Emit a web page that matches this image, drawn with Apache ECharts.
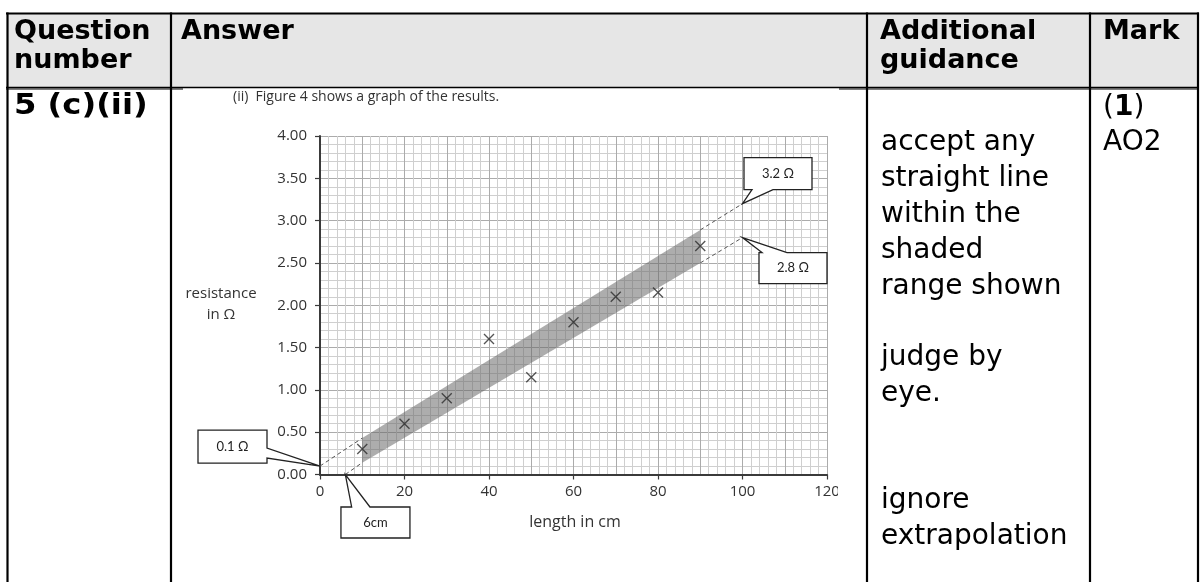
<!DOCTYPE html>
<html><head><meta charset="utf-8">
<script src="https://cdn.jsdelivr.net/npm/echarts@6/dist/echarts.min.js"></script>
<style>html,body{margin:0;padding:0;background:#fff}#c{width:1200px;height:582px}</style>
</head><body><div id="c"></div>
<script>
// ---- data ----
const lengthsCm = [10, 20, 30, 40, 50, 60, 70, 80, 90];
const resistanceOhm = [0.30, 0.60, 0.90, 1.60, 1.15, 1.80, 2.10, 2.15, 2.70];
const bandX = [10, 90, 90, 10];
const bandY = [0.43, 2.89, 2.50, 0.14];
const upperLeftExt = [[0, 0.1], [10, 0.43]];
const lowerLeftExt = [[6, 0], [10, 0.14]];
const upperRightExt = [[90, 2.89], [100, 3.2]];
const lowerRightExt = [[90, 2.50], [100, 2.8]];
const calloutLabels = ['0.1 Ω', '6cm', '3.2 Ω', '2.8 Ω'];
const calloutX = [0, 6, 100, 100];
const calloutY = [0.1, 0, 3.2, 2.8];
const xTickLabels = ['0', '20', '40', '60', '80', '100', '120'];
const yTickLabels = ['0.00', '0.50', '1.00', '1.50', '2.00', '2.50', '3.00', '3.50', '4.00'];
const headers = ['Question\nnumber', 'Answer', 'Additional\nguidance', 'Mark'];
const questionId = '5 (c)(ii)';
const guidanceLines = ['accept any', 'straight line', 'within the', 'shaded', 'range shown', '', 'judge by', 'eye.', '', '', 'ignore', 'extrapolation'];
const markLines = ['1', 'AO2'];
const figureCaption = '(ii)  Figure 4 shows a graph of the results.';
const yAxisTitle = 'resistance\nin Ω';
const xAxisTitle = 'length in cm';

// ---- layout ----
const calloutLayout = [
  { dx: -122, dy: -36, w: 69, h: 33, side: 'right', a: 18, b: 28 },
  { dx: -4.4, dy: 32.5, w: 69, h: 31, side: 'top', a: 10.7, b: 29 },
  { dx: 1.5, dy: -46, w: 68, h: 32, side: 'bottom', a: 8, b: 29 },
  { dx: 16.5, dy: 15, w: 68, h: 31, side: 'top', a: 3, b: 28 }
];
const CF = 'Open Sans, sans-serif';
const TF = 'DejaVu Sans, Verdana, sans-serif';
const gridColorMajor = '#ababab';
const gridColorMinor = '#cfcfcf';
const axisColor = '#3a3a3a';

const chart = echarts.init(document.getElementById('c'), null, { renderer: 'canvas' });

function vline(x, y1, y2, w) {
  return { type: 'line', z: 50, shape: { x1: x, y1: y1, x2: x, y2: y2 }, style: { stroke: '#000', lineWidth: w } };
}
function hline(y, x1, x2, w) {
  return { type: 'line', z: 50, shape: { x1: x1, y1: y, x2: x2, y2: y }, style: { stroke: '#000', lineWidth: w } };
}
function txt(text, x, y, size, weight, opts) {
  return { type: 'text', z: 60, style: Object.assign({
    text: text, x: x, y: y, fill: '#000', fontFamily: TF, fontSize: size, fontWeight: weight,
    align: 'left', verticalAlign: 'middle'
  }, opts || {}) };
}

const graphic = [
  { type: 'rect', z: 1, shape: { x: 7, y: 13, width: 1191, height: 74 }, style: { fill: '#e6e6e6' } },
  hline(13.5, 6, 1199, 2),
  hline(87.5, 6, 1199, 1.5),
  hline(89, 6, 183, 1.2),
  hline(89, 839, 1199, 1.2),
  vline(7.5, 12.5, 582, 2.2),
  vline(171, 12.5, 582, 2.2),
  vline(867, 12.5, 582, 2.2),
  vline(1090, 12.5, 582, 2.2),
  vline(1198, 12.5, 582, 2.2),
  txt(headers[0], 14, 17.8, 27, 'bold', { verticalAlign: 'top', lineHeight: 28.5 }),
  txt(headers[1], 181, 32, 27, 'bold'),
  txt(headers[2], 880, 17.8, 27, 'bold', { verticalAlign: 'top', lineHeight: 28.5 }),
  txt(headers[3], 1103, 32, 27, 'bold'),
  { type: 'text', z: 60, x: 14, y: 107.2, scaleX: 1.15, scaleY: 1,
    style: { text: questionId, x: 0, y: 0, fill: '#000', fontFamily: TF, fontSize: 28, fontWeight: 'bold', align: 'left', verticalAlign: 'middle' } },
  txt(guidanceLines.join('\n'), 881, 125.3, 28, 'normal', { verticalAlign: 'top', lineHeight: 35.8 }),
  txt('(' + '{b|' + markLines[0] + '})', 1103, 107.7, 28, 'normal', { rich: { b: { fontWeight: 'bold', fontFamily: TF, fontSize: 28, fill: '#000' } } }),
  txt(markLines[1], 1103, 143.2, 28, 'normal'),
  { type: 'text', z: 60, style: { text: figureCaption, x: 233, y: 96.6, fill: '#333', fontFamily: CF, fontSize: 14, align: 'left', verticalAlign: 'middle' } },
  { type: 'text', z: 60, style: { text: yAxisTitle, x: 221, y: 283, fill: '#333', fontFamily: CF, fontSize: 15, align: 'center', verticalAlign: 'top', lineHeight: 21 } },
  { type: 'text', z: 60, style: { text: xAxisTitle, x: 575, y: 522, fill: '#333', fontFamily: CF, fontSize: 16, align: 'center', verticalAlign: 'middle' } },
  { type: 'rect', z: 70, shape: { x: 838, y: 478, width: 27, height: 30 }, style: { fill: '#fff' } }
];

const dashStyle = { color: '#555', width: 1, type: [4, 3] };
function extSeries(data) {
  return { type: 'line', data: data, symbol: 'none', lineStyle: dashStyle, z: 4, silent: true, animation: false };
}

const option = {
  animation: false,
  backgroundColor: '#fff',
  grid: { left: 320, top: 136, width: 507, height: 338.5, containLabel: false },
  xAxis: [
    {
      type: 'value', min: 0, max: 120, interval: 20,
      axisLine: { show: true, onZero: false, lineStyle: { color: axisColor, width: 2 } },
      axisTick: { show: true, length: 5, lineStyle: { color: axisColor, width: 1.2 } },
      axisLabel: { margin: 10, fontSize: 15, color: '#333', fontFamily: CF, formatter: v => xTickLabels[Math.round(v / 20)] },
      splitLine: { show: false }
    },
    {
      type: 'value', min: 0, max: 120, interval: 10, position: 'bottom',
      axisLine: { show: false }, axisTick: { show: false }, axisLabel: { show: false },
      splitLine: { show: true, lineStyle: { color: gridColorMajor, width: 1 } },
      minorTick: { show: false, splitNumber: 5 },
      minorSplitLine: { show: true, lineStyle: { color: gridColorMinor, width: 1 } }
    }
  ],
  yAxis: [
    {
      type: 'value', min: 0, max: 4, interval: 0.5,
      axisLine: { show: true, onZero: false, lineStyle: { color: axisColor, width: 2 } },
      axisTick: { show: true, length: 5, lineStyle: { color: axisColor, width: 1.2 } },
      axisLabel: { margin: 13, fontSize: 15, color: '#333', fontFamily: CF, formatter: v => yTickLabels[Math.round(v / 0.5)] },
      splitLine: { show: true, lineStyle: { color: gridColorMajor, width: 1 } },
      minorTick: { show: false, splitNumber: 5 },
      minorSplitLine: { show: true, lineStyle: { color: gridColorMinor, width: 1 } }
    }
  ],
  graphic: graphic,
  series: [
    {
      type: 'custom', z: 3, silent: true,
      data: [[0]],
      renderItem: function (params, api) {
        const pts = bandX.map((x, i) => api.coord([x, bandY[i]]));
        return { type: 'polygon', shape: { points: pts }, style: { fill: 'rgba(105,105,105,0.55)' } };
      }
    },
    extSeries(upperLeftExt),
    extSeries(lowerLeftExt),
    extSeries(upperRightExt),
    extSeries(lowerRightExt),
    {
      type: 'scatter', z: 6,
      data: lengthsCm.map((x, i) => [x, resistanceOhm[i]]),
      symbol: 'path://M0,0L10,10M10,0L0,10', symbolSize: 10,
      itemStyle: { color: 'none', borderColor: '#2a2a2a', borderWidth: 1.4 }
    },
    {
      type: 'custom', z: 8, clip: false, silent: true,
      data: calloutX.map((x, i) => [x, calloutY[i], i]),
      renderItem: function (params, api) {
        const tip = api.coord([api.value(0), api.value(1)]);
        const L = calloutLayout[params.dataIndex];
        const bx = tip[0] + L.dx, by = tip[1] + L.dy, w = L.w, h = L.h;
        let pts;
        if (L.side === 'right') pts = [[bx, by], [bx + w, by], [bx + w, by + L.a], tip, [bx + w, by + L.b], [bx + w, by + h], [bx, by + h]];
        else if (L.side === 'top') pts = [[bx, by], [bx + L.a, by], tip, [bx + L.b, by], [bx + w, by], [bx + w, by + h], [bx, by + h]];
        else pts = [[bx, by], [bx + w, by], [bx + w, by + h], [bx + L.b, by + h], tip, [bx + L.a, by + h], [bx, by + h]];
        return {
          type: 'group', children: [
            { type: 'polygon', shape: { points: pts }, style: { fill: '#fff', stroke: '#222', lineWidth: 1.3 } },
            { type: 'text', style: { text: calloutLabels[params.dataIndex], x: bx + w / 2, y: by + h / 2, align: 'center', verticalAlign: 'middle', fontFamily: 'Lato, sans-serif', fontSize: 13, fill: '#222' } }
          ]
        };
      }
    }
  ]
};
chart.setOption(option);
</script>
</body></html>
